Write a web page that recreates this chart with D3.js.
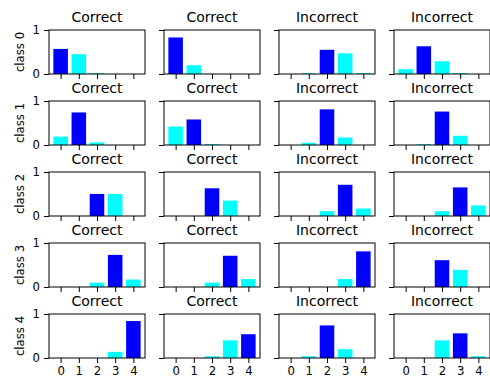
<!DOCTYPE html>
<html>
<head>
<meta charset="utf-8">
<script src="https://cdn.jsdelivr.net/npm/d3@7"></script>
<style>
  html, body { margin: 0; padding: 0; background: #fff; }
  svg { display: block; }
  text { font-family: "DejaVu Sans", sans-serif; fill: #000; }
</style>
</head>
<body>
<svg id="chart" width="490" height="383"></svg>
<script>
// Predicted class probabilities for sampled test images,
// one row per true class, two correct and two incorrect predictions each.
const classes = [0, 1, 2, 3, 4];
const rowLabels = ["class 0", "class 1", "class 2", "class 3", "class 4"];
const colTitles = ["Correct", "Correct", "Incorrect", "Incorrect"];
const yTicks = [0, 1];

const probsClass0 = [
  [0.57, 0.45, 0.02, 0.00, 0.00],
  [0.83, 0.20, 0.005, 0.00, 0.00],
  [0.00, 0.02, 0.55, 0.47, 0.02],
  [0.11, 0.63, 0.29, 0.02, 0.00]
];
const probsClass1 = [
  [0.19, 0.74, 0.06, 0.00, 0.00],
  [0.42, 0.58, 0.02, 0.00, 0.00],
  [0.00, 0.05, 0.81, 0.17, 0.00],
  [0.00, 0.02, 0.76, 0.21, 0.00]
];
const probsClass2 = [
  [0.00, 0.00, 0.501, 0.499, 0.00],
  [0.00, 0.00, 0.63, 0.35, 0.00],
  [0.00, 0.00, 0.11, 0.71, 0.17],
  [0.00, 0.00, 0.11, 0.65, 0.24]
];
const probsClass3 = [
  [0.00, 0.00, 0.10, 0.73, 0.17],
  [0.00, 0.00, 0.10, 0.71, 0.18],
  [0.00, 0.00, 0.00, 0.18, 0.81],
  [0.00, 0.00, 0.61, 0.39, 0.00]
];
const probsClass4 = [
  [0.00, 0.00, 0.00, 0.14, 0.84],
  [0.00, 0.00, 0.04, 0.40, 0.54],
  [0.00, 0.04, 0.74, 0.20, 0.00],
  [0.00, 0.00, 0.40, 0.56, 0.04]
];
const allRows = [probsClass0, probsClass1, probsClass2, probsClass3, probsClass4];

// Layout of the 5 x 4 grid of small axes
const left0 = 49, colStep = 115, top0 = 30, rowStep = 71;
const w = 96, h = 44;

const svg = d3.select("#chart");

const x = d3.scaleLinear().domain([-0.64, 4.64]).range([0, w]);
const y = d3.scaleLinear().domain([0, 1]).range([h, 0]);
const barW = 0.8;

allRows.forEach((row, r) => {
  row.forEach((probs, c) => {
    const g = svg.append("g")
      .attr("transform", `translate(${left0 + c * colStep},${top0 + r * rowStep})`);

    const best = d3.maxIndex(probs);

    g.selectAll("rect.bar")
      .data(probs)
      .join("rect")
      .attr("class", "bar")
      .attr("x", (d, i) => x(classes[i] - barW / 2))
      .attr("width", (d, i) => x(classes[i] + barW / 2) - x(classes[i] - barW / 2))
      .attr("y", d => y(d))
      .attr("height", d => y(0) - y(d))
      .attr("fill", (d, i) => i === best ? "#0000ff" : "#00ffff");

    // x axis ticks (labels only on the bottom row)
    const xAxis = d3.axisBottom(x)
      .tickValues(classes)
      .tickSize(5)
      .tickPadding(4)
      .tickFormat(r === allRows.length - 1 ? d3.format("d") : () => "");
    const gx = g.append("g").attr("transform", `translate(0,${h})`).call(xAxis);

    // y axis ticks (labels only in the first column)
    const yAxis = d3.axisLeft(y)
      .tickValues(yTicks)
      .tickSize(5)
      .tickPadding(4)
      .tickFormat(c === 0 ? d3.format("d") : () => "");
    const gy = g.append("g").call(yAxis);

    [gx, gy].forEach(a => {
      a.select(".domain").remove();
      a.selectAll(".tick line").attr("stroke", "#000").attr("stroke-width", 1);
      a.selectAll(".tick text")
        .attr("fill", "#000")
        .style("font-family", "'DejaVu Sans', sans-serif")
        .style("font-size", "11.7px");
    });

    // axes frame
    g.append("rect")
      .attr("x", 0).attr("y", 0)
      .attr("width", w).attr("height", h)
      .attr("fill", "none")
      .attr("stroke", "#000")
      .attr("stroke-width", 1);

    // panel title
    g.append("text")
      .attr("x", w / 2)
      .attr("y", -8)
      .attr("text-anchor", "middle")
      .style("font-size", "14px")
      .text(colTitles[c]);

    // row label
    if (c === 0) {
      g.append("text")
        .attr("transform", `translate(${24 - left0},${h / 2}) rotate(-90)`)
        .attr("text-anchor", "middle")
        .style("font-size", "11.7px")
        .text(rowLabels[r]);
    }
  });
});
</script>
</body>
</html>
